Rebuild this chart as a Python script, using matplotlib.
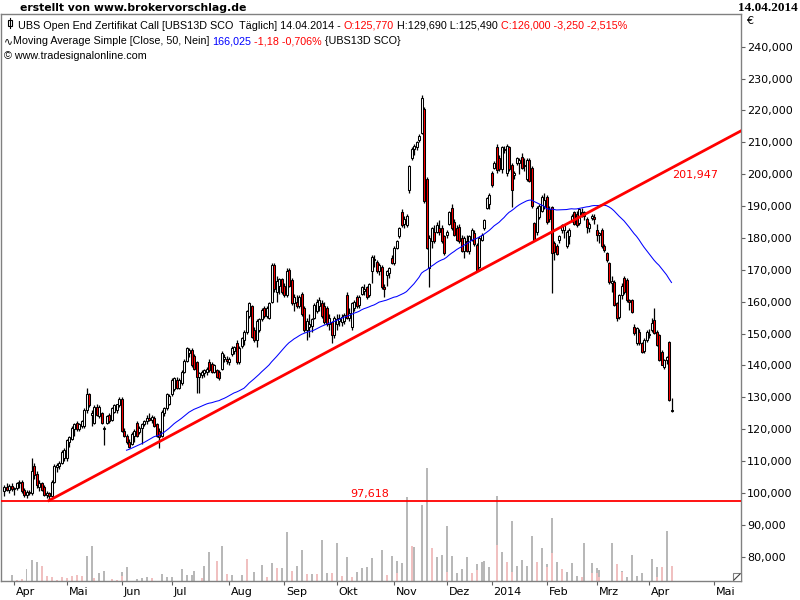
import matplotlib
matplotlib.use('Agg')
import matplotlib.pyplot as plt
import matplotlib.transforms as mtransforms
from matplotlib.patches import Rectangle
from matplotlib.lines import Line2D
import numpy as np
import pandas as pd

# trading days (Stuttgart, holidays removed)
holidays = ['2013-03-29', '2013-04-01', '2013-05-01', '2013-12-24', '2013-12-25',
            '2013-12-26', '2013-12-31', '2014-01-01']
first_day = '2013-03-25'
last_day = '2014-04-14'
future_tick = ('2014-05-01', 'Mai')

opens = [
    100.5, 102.0, 101.0, 102.3, 101.2, 101.5, 103.0, 103.5, 101.0, 99.3,
    100.3, 100.0, 108.5, 106.0, 102.0, 103.0, 102.0, 99.5, 100.0, 99.0,
    103.5, 108.0, 108.5, 109.5, 111.0, 111.0, 116.0, 117.0, 120.0, 122.0,
    120.0, 121.0, 121.0, 126.0, 131.0, 124.5, 122.0, 127.0, 124.0, 125.0,
    120.0, 122.0, 124.5, 123.0, 125.5, 126.0, 127.5, 129.5, 119.5, 118.0,
    116.0, 115.5, 118.0, 122.0, 119.0, 120.5, 121.5, 122.5, 123.5, 123.0,
    123.5, 121.5, 119.5, 118.0, 125.0, 126.5, 128.0, 131.0, 132.5, 135.5,
    133.0, 134.5, 138.0, 141.5, 144.0, 145.0, 143.0, 141.0, 136.5, 137.0,
    137.5, 138.0, 141.0, 140.5, 138.0, 138.5, 138.0, 139.0, 142.0, 142.0,
    141.0, 143.5, 144.5, 147.0, 141.0, 146.0, 148.0, 150.5, 155.5, 158.5,
    151.0, 148.0, 151.0, 154.5, 158.0, 155.5, 155.0, 160.0, 171.5, 163.0,
    165.0, 167.0, 165.0, 162.0, 170.0, 166.8, 159.5, 160.0, 158.5, 162.5,
    158.0, 151.0, 152.0, 152.5, 155.0, 157.0, 158.5, 159.5, 158.5, 158.0,
    153.0, 153.5, 149.5, 153.0, 154.0, 153.5, 154.0, 162.0, 155.0, 152.0,
    158.0, 161.5, 159.0, 162.5, 163.5, 164.5, 162.0, 169.5, 173.5, 172.5,
    169.5, 171.0, 164.5, 168.5, 169.0, 173.7, 172.0, 177.0, 180.5, 188.2,
    184.5, 184.0, 195.0, 205.0, 208.0, 208.5, 210.7, 213.0, 220.5, 198.5,
    170.5, 179.0, 182.0, 182.0, 183.0, 183.0, 180.5, 181.0, 184.5, 189.3,
    185.0, 183.0, 183.5, 180.0, 176.0, 179.0, 176.0, 179.5, 181.5, 177.8,
    171.0, 179.5, 183.0, 189.5, 190.5, 200.3, 202.0, 208.6, 205.0, 201.5,
    208.0, 200.5, 208.6, 203.0, 199.8, 203.5, 203.5, 205.5, 203.0, 198.5,
    204.5, 202.0, 184.6, 182.0, 186.5, 188.5, 190.0, 193.0, 189.0, 189.8,
    178.3, 177.5, 179.5, 182.5, 182.5, 177.5, 180.5, 185.5, 188.0, 187.5,
    184.6, 188.0, 187.0, 186.0, 183.0, 186.2, 186.5, 182.5, 181.0, 182.5,
    177.5, 175.2, 172.0, 166.0, 166.3, 159.5, 155.3, 162.0, 167.3, 166.8,
    160.5, 160.5, 152.2, 147.0, 150.6, 146.9, 144.5, 148.0, 149.5, 151.1,
    154.3, 150.5, 149.5, 144.3, 139.6, 141.7, 147.4, 125.77]

highs = [
    102.5, 103.0, 102.8, 103.0, 102.0, 103.5, 104.0, 104.0, 101.5, 100.8,
    101.0, 111.0, 109.5, 107.0, 104.0, 103.5, 102.5, 100.5, 100.2, 104.0,
    109.0, 109.5, 110.0, 113.5, 114.0, 117.0, 118.0, 121.0, 122.0, 122.5,
    122.0, 123.0, 126.5, 133.0, 131.5, 126.0, 127.5, 128.0, 127.5, 125.5,
    121.0, 124.5, 125.0, 127.0, 127.8, 128.0, 130.2, 130.0, 120.5, 118.5,
    117.0, 119.0, 120.0, 122.5, 121.0, 122.0, 123.0, 124.5, 125.0, 124.5,
    124.0, 122.0, 120.5, 126.0, 127.0, 131.5, 131.0, 136.0, 136.5, 136.5,
    136.0, 138.5, 142.0, 145.8, 145.5, 145.5, 143.5, 141.5, 138.0, 138.5,
    139.0, 139.5, 142.0, 141.0, 140.5, 139.0, 138.5, 144.5, 143.5, 143.0,
    142.5, 146.0, 146.0, 148.0, 146.0, 149.0, 151.0, 157.5, 160.0, 159.0,
    152.0, 154.5, 155.0, 158.0, 158.5, 158.5, 160.0, 172.0, 172.0, 168.0,
    167.5, 167.5, 166.0, 170.5, 170.5, 167.5, 162.5, 162.0, 162.0, 163.0,
    158.5, 155.0, 156.0, 155.0, 159.5, 161.0, 161.5, 160.5, 160.0, 158.5,
    156.0, 154.0, 155.5, 156.0, 156.0, 156.0, 156.5, 163.0, 158.0, 160.0,
    160.5, 162.0, 162.0, 165.0, 165.5, 165.0, 166.0, 174.5, 174.5, 173.0,
    172.0, 171.5, 165.5, 170.0, 171.0, 174.5, 177.5, 179.5, 183.5, 189.0,
    187.0, 187.5, 203.0, 208.5, 209.5, 210.5, 212.5, 225.0, 221.0, 199.0,
    181.0, 183.5, 184.0, 185.0, 185.5, 184.0, 181.0, 182.5, 188.5, 190.5,
    186.0, 184.0, 184.5, 181.0, 180.5, 181.0, 181.0, 183.0, 182.5, 178.5,
    180.5, 181.5, 186.0, 192.8, 194.0, 201.0, 204.0, 209.5, 206.0, 209.0,
    209.0, 209.5, 209.0, 203.5, 201.0, 205.5, 205.0, 206.5, 205.0, 205.0,
    205.0, 202.5, 185.0, 190.0, 190.5, 193.5, 194.0, 193.5, 190.0, 190.0,
    179.0, 178.0, 181.0, 184.5, 184.5, 182.5, 183.0, 187.5, 188.5, 188.5,
    189.5, 189.5, 188.5, 186.5, 185.0, 187.5, 187.5, 184.5, 182.0, 183.0,
    178.0, 175.5, 172.5, 168.0, 166.8, 160.0, 162.5, 166.0, 168.0, 167.5,
    161.0, 161.0, 153.0, 152.0, 151.5, 147.5, 148.5, 151.0, 151.5, 155.0,
    158.0, 151.0, 150.0, 144.8, 142.0, 143.0, 147.8, 129.69]

lows = [
    99.0, 100.5, 100.0, 100.5, 99.5, 100.8, 101.5, 100.0, 98.8, 98.5,
    99.5, 99.5, 104.5, 101.5, 100.5, 100.5, 99.0, 98.5, 97.618, 98.8,
    103.0, 106.5, 107.5, 109.0, 110.0, 110.0, 114.5, 116.5, 118.0, 119.5,
    119.5, 120.5, 120.5, 125.0, 127.0, 121.0, 121.5, 124.0, 123.5, 121.5,
    115.0, 121.5, 122.0, 122.5, 125.0, 125.0, 127.0, 119.0, 117.5, 115.5,
    114.0, 115.0, 116.0, 117.5, 118.5, 115.5, 121.0, 121.5, 122.5, 122.0,
    120.8, 117.5, 114.0, 117.5, 124.0, 126.0, 127.5, 130.5, 132.0, 132.5,
    132.5, 134.0, 137.5, 141.0, 142.5, 139.5, 138.5, 131.5, 131.5, 136.0,
    136.5, 137.0, 138.0, 137.5, 137.5, 136.0, 135.5, 138.5, 141.0, 140.5,
    140.0, 143.0, 143.5, 140.5, 140.5, 145.5, 146.5, 150.0, 155.0, 148.5,
    147.5, 145.8, 150.5, 154.0, 155.0, 155.0, 154.5, 159.5, 163.0, 160.0,
    162.5, 162.5, 161.5, 161.5, 164.5, 159.0, 157.0, 158.0, 158.0, 155.5,
    150.5, 148.0, 149.0, 150.5, 154.5, 156.5, 157.0, 155.0, 153.0, 152.5,
    151.0, 147.0, 148.5, 151.0, 152.5, 152.5, 153.0, 154.5, 154.0, 151.0,
    157.0, 158.0, 158.0, 162.0, 162.0, 161.0, 161.5, 165.8, 171.0, 169.0,
    168.5, 164.0, 161.5, 165.0, 167.5, 171.8, 171.5, 176.5, 180.0, 183.5,
    183.0, 183.5, 194.0, 204.5, 206.0, 207.5, 210.0, 212.5, 191.0, 176.5,
    164.7, 177.0, 178.5, 181.5, 181.0, 178.5, 174.5, 180.0, 184.0, 182.5,
    180.5, 179.0, 178.5, 175.5, 173.7, 175.5, 175.0, 179.0, 177.5, 169.5,
    170.5, 179.0, 182.5, 189.0, 189.0, 196.0, 201.5, 200.5, 201.0, 200.5,
    206.5, 199.5, 201.0, 189.8, 198.5, 203.0, 200.0, 201.5, 201.0, 198.0,
    197.5, 189.5, 179.0, 181.0, 186.0, 188.0, 189.0, 184.5, 185.0, 162.6,
    173.0, 174.5, 178.5, 181.5, 180.0, 177.0, 178.0, 185.0, 184.0, 183.5,
    184.0, 186.5, 185.5, 181.5, 182.0, 185.5, 184.5, 179.0, 178.5, 177.0,
    175.5, 172.5, 165.5, 163.0, 158.5, 154.0, 154.5, 161.0, 162.5, 160.0,
    157.5, 156.5, 149.5, 146.5, 146.5, 143.8, 144.0, 147.5, 148.5, 150.5,
    150.0, 146.0, 141.5, 140.0, 139.0, 140.5, 128.8, 125.49]

closes = [
    102.0, 101.0, 102.3, 101.2, 101.5, 103.0, 103.5, 100.5, 99.3, 100.3,
    100.0, 107.0, 105.5, 102.5, 103.0, 101.0, 99.5, 100.0, 99.0, 103.5,
    108.5, 108.8, 109.5, 113.0, 113.5, 116.5, 117.5, 120.5, 121.5, 120.0,
    121.5, 122.5, 126.0, 131.0, 127.5, 125.0, 127.0, 124.5, 127.0, 122.0,
    120.5, 124.0, 122.5, 126.5, 127.5, 127.8, 129.5, 119.5, 118.0, 116.0,
    114.5, 118.5, 119.5, 118.0, 120.5, 121.5, 122.5, 123.5, 123.0, 123.8,
    121.0, 118.0, 117.5, 125.5, 126.5, 131.0, 130.5, 135.5, 136.0, 133.0,
    135.5, 138.0, 141.5, 145.5, 145.0, 140.0, 139.0, 136.5, 137.5, 138.0,
    138.5, 139.0, 138.5, 138.0, 140.0, 136.5, 136.0, 144.0, 142.5, 141.5,
    142.0, 145.5, 145.8, 141.0, 145.5, 148.5, 150.5, 157.0, 159.5, 149.0,
    148.0, 154.0, 154.5, 157.5, 155.5, 158.0, 159.5, 171.5, 164.0, 166.5,
    167.0, 163.0, 162.0, 169.5, 165.0, 159.5, 161.5, 158.5, 161.5, 156.0,
    151.0, 154.0, 153.0, 154.5, 159.0, 160.0, 160.5, 155.5, 153.5, 153.0,
    155.0, 149.5, 155.0, 154.5, 155.0, 155.3, 155.8, 155.0, 156.5, 159.5,
    160.0, 158.5, 161.5, 164.5, 164.0, 161.5, 165.5, 174.0, 173.0, 169.5,
    171.5, 164.5, 164.0, 169.5, 170.5, 172.0, 177.0, 179.0, 183.0, 184.0,
    186.0, 187.0, 202.5, 208.0, 209.0, 210.0, 212.0, 224.0, 191.5, 177.0,
    180.0, 183.0, 179.0, 184.0, 182.0, 179.0, 175.3, 182.0, 188.0, 183.0,
    181.0, 179.5, 179.0, 176.0, 180.0, 176.0, 180.5, 182.5, 178.0, 170.0,
    180.0, 181.0, 185.5, 192.5, 193.5, 196.6, 203.5, 201.3, 201.5, 208.5,
    207.5, 209.0, 201.5, 195.0, 200.3, 205.0, 204.5, 202.0, 202.5, 204.5,
    198.0, 190.0, 179.4, 189.5, 190.0, 193.0, 192.0, 185.0, 186.0, 175.2,
    175.5, 175.0, 180.5, 184.0, 184.0, 182.0, 182.5, 187.0, 184.5, 184.0,
    189.0, 187.0, 188.0, 183.5, 184.5, 187.0, 186.0, 181.0, 181.5, 177.5,
    176.25, 173.0, 166.3, 166.5, 159.0, 154.8, 162.1, 165.0, 163.1, 160.5,
    160.0, 156.9, 150.1, 151.6, 146.9, 144.3, 148.0, 150.6, 150.0, 153.2,
    150.1, 146.5, 141.7, 140.1, 141.7, 142.5, 129.25, 126.0]

# volume (two series, bar day = trading day number)
vol_days = [3, 9, 11, 13, 33, 35, 38, 40, 47, 49, 53, 55, 57, 63, 65, 67, 71, 73, 75, 76,
            80, 82, 87, 91, 95, 100, 103, 107, 111, 113, 117, 119, 123, 127, 129, 133, 137,
            141, 143, 145, 147, 151, 155, 157, 159, 161, 164, 167, 169, 173, 175, 177, 179,
            181, 183, 185, 189, 191, 192, 194, 197, 199, 203, 205, 207, 209, 211, 215, 217,
            219, 221, 225, 227, 229, 232, 235, 237, 238, 243, 247, 249, 251, 253, 255, 259,
            261, 265]
vol_total = [600, 1200, 2100, 1870, 2500, 3500, 770, 1000, 930, 1400, 200, 270, 430, 700,
             370, 430, 1200, 600, 570, 1000, 1500, 2870, 3500, 600, 600, 930, 1600, 1770,
             1270, 4900, 1530, 3100, 670, 4100, 770, 3770, 2400, 930, 1270, 1430, 2330, 3070,
             2500, 2030, 1800, 8400, 3370, 7600, 11300, 2430, 2600, 5500, 2500, 830, 1170,
             2400, 1730, 1870, 2030, 1430, 8500, 2870, 6030, 1500, 2100, 1530, 4500, 3270,
             1700, 6300, 1930, 930, 1830, 530, 3770, 1770, 1270, 1100, 3770, 1030, 370, 2570,
             500, 830, 2230, 1430, 5000]
vol2_days = [5, 7, 15, 17, 19, 21, 23, 25, 27, 29, 31, 36, 43, 45, 47, 59, 79, 85, 89, 97,
             105, 109, 115, 121, 125, 131, 135, 139, 153, 157, 163, 171, 177, 187, 189, 197,
             201, 203, 213, 217, 219, 223, 231, 235, 237, 238, 245, 247, 261, 263, 267]
vol2 = [100, 170, 1500, 500, 430, 100, 370, 270, 500, 600, 500, 330, 170, 100, 530, 270, 270,
        2000, 700, 2200, 370, 1330, 1000, 700, 700, 830, 530, 370, 600, 830, 3500, 3300, 930,
        830, 1100, 3600, 1870, 930, 1930, 1430, 2830, 1200, 430, 770, 770, 430, 1700, 900,
        430, 1430, 1500]

trend_days = [18, 267]
trend_vals = [97.618, 201.947]
support = 97.618
sma_len = 50

month_names = {1: None, 2: 'Feb', 3: 'Mrz', 4: 'Apr', 5: 'Mai', 6: 'Jun', 7: 'Jul',
               8: 'Aug', 9: 'Sep', 10: 'Okt', 11: 'Nov', 12: 'Dez'}

n = len(closes)
dates = pd.bdate_range(first_day, last_day, freq='C', holidays=holidays)[:n]
x = np.arange(n)
o = np.array(opens)
hi = np.array(highs)
lo = np.array(lows)
c = np.array(closes)
sma = pd.Series(c).rolling(sma_len).mean().values

tick_pos, tick_lab = [], []
for i in range(1, n):
    if dates[i].month != dates[i - 1].month:
        tick_pos.append(i)
        lab = month_names[dates[i].month]
        tick_lab.append(lab if lab else str(dates[i].year))
fut = pd.Timestamp(future_tick[0])
tick_pos.append(n - 1 + (fut - dates[-1]).days)
tick_lab.append(future_tick[1])

fig = plt.figure(figsize=(8, 6), dpi=100)
rect = [1 / 800, 19 / 600, 740 / 800, 567 / 600]
xmin, xmax = -1.2, 294.8

ax_vol = fig.add_axes(rect)
ax_vol.set_xlim(xmin, xmax)
ax_vol.set_ylim(0, 56700)
ax_vol.bar(vol_days, vol_total, width=0.8, color='#b8b8b8', linewidth=0)
ax_vol.bar(vol2_days, vol2, width=0.8, color='#f0c0c0', linewidth=0)
ax_vol.axis('off')

ax = fig.add_axes(rect)
ax.patch.set_visible(False)
ax.set_xlim(xmin, xmax)
ax.set_ylim(72.38, 250.26)

up = c >= o
ax.vlines(x, lo, hi, color='black', lw=0.9, zorder=3)
ax.bar(x, np.abs(c - o), bottom=np.minimum(o, c), width=0.8,
       color=np.where(up, 'white', '#ff0000'), edgecolor='black', linewidth=0.75, zorder=4)

ax.plot(x, sma, color='#0000ff', lw=0.75, zorder=5)

slope = (trend_vals[1] - trend_vals[0]) / (trend_days[1] - trend_days[0])
tx = np.array([trend_days[0], xmax])
ax.plot(tx, trend_vals[0] + slope * (tx - trend_days[0]), color='#ff0000', lw=2.0, zorder=6)
ax.axhline(support, color='#ff0000', lw=1.3, zorder=6)
ax.text(146.4, support + 0.6, '{:.3f}'.format(support).replace('.', ','), color='#ff0000',
        fontsize=8, ha='center', va='bottom')
ax.text(267.2, trend_vals[1] - 2.2, '{:.3f}'.format(trend_vals[1]).replace('.', ','),
        color='#ff0000', fontsize=8, ha='left', va='center')

yt = np.arange(80, 241, 10)
ax.yaxis.tick_right()
ax.set_yticks(yt)
ax.set_yticklabels(['{:.3f}'.format(v).replace('.', ',') for v in yt])
ax.set_xticks(tick_pos)
ax.set_xticklabels(tick_lab)
ax.tick_params(axis='both', labelsize=8, length=3, width=0.8, color='#606060', pad=1.5)
shift = mtransforms.ScaledTranslation(2 / 100, 0, fig.dpi_scale_trans)
for lbl in ax.get_xticklabels():
    lbl.set_horizontalalignment('left')
    lbl.set_transform(lbl.get_transform() + shift)
for sp in ax.spines.values():
    sp.set_color('#808080')
    sp.set_linewidth(1.0)

# header
fig.text(20 / 800, 1 - 8 / 600, 'erstellt von www.brokervorschlag.de', fontsize=7.8,
         fontweight='bold', va='center')
fig.text(798 / 800, 1 - 8 / 600, '14.04.2014', fontsize=9.5, fontweight='bold',
         family='Liberation Serif', ha='right', va='center')
fig.text(746 / 800, 1 - 21 / 600, '€', fontsize=8, va='center')


def colored_line(xp, yp, pieces):
    t = ax.text(xp / 800, 1 - yp / 600, pieces[0][0], color=pieces[0][1], fontsize=7.75,
                family=['Liberation Sans', 'DejaVu Sans'], va='bottom',
                transform=fig.transFigure)
    for s, col in pieces[1:]:
        t = ax.annotate(s, xy=(1, 0), xycoords=t, va='bottom', color=col, fontsize=7.75,
                        family=['Liberation Sans', 'DejaVu Sans'], annotation_clip=False)


colored_line(18, 31, [('UBS Open End Zertifikat Call [UBS13D SCO  Täglich] 14.04.2014 - ', 'black'),
                      ('O:125,770', '#ff0000'), (' H:129,690 L:125,490 ', 'black'),
                      ('C:126,000 -3,250 -2,515%', '#ff0000')])
colored_line(4, 46, [('∿', 'black'), ('Moving Average Simple [Close, 50, Nein] ', 'black'),
                     ('166,025', '#0000ff'), (' -1,18 -0,706%', '#ff0000'),
                     (' {UBS13D SCO}', 'black')])
colored_line(4, 61, [('© www.tradesignalonline.com', 'black')])

# candle icon in legend
fig.add_artist(Line2D([10 / 800, 10 / 800], [1 - 18 / 600, 1 - 28 / 600], color='black', lw=0.8))
fig.add_artist(Rectangle((8 / 800, 1 - 26 / 600), 4 / 800, 6 / 600, facecolor='white',
                         edgecolor='black', lw=0.8))
# corner box
fig.add_artist(Rectangle((733 / 800, 1 - 581 / 600), 8 / 800, 8 / 600, facecolor='white',
                         edgecolor='#808080', lw=0.8))
fig.add_artist(Line2D([734 / 800, 740 / 800], [1 - 580 / 600, 1 - 574 / 600], color='#404040', lw=0.8))

fig.savefig('out.png', dpi=100)
